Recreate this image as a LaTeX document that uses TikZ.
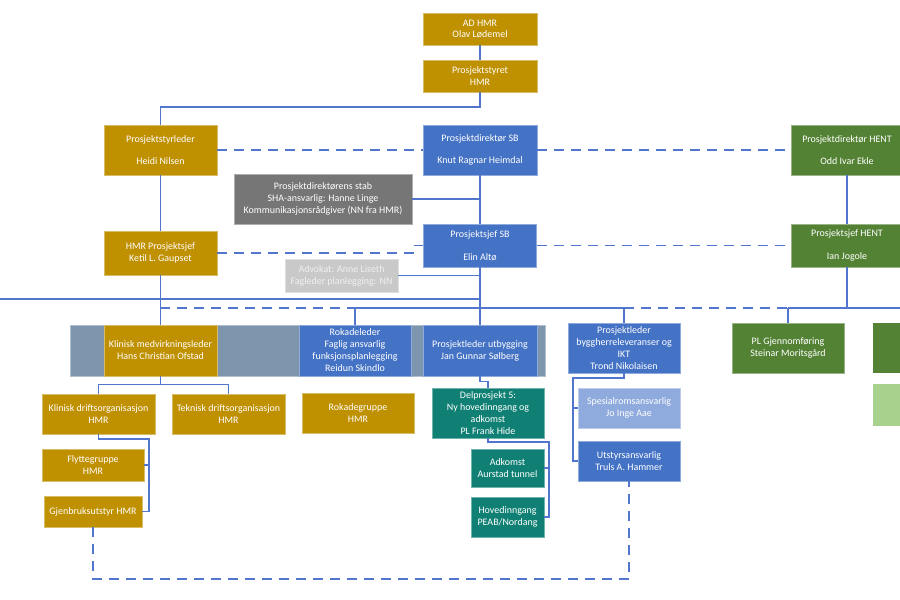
\documentclass[tikz,border=0pt]{standalone}
\usepackage{fontspec}
\setmainfont{Carlito}
\begin{document}
\begin{tikzpicture}[x=0.03cm,y=-0.03cm,
  every node/.style={font=\fontsize{8.5}{10.2}\selectfont,text=white,align=center,inner sep=0pt},
  box/.style={fill=#1,draw=#1!60!white,line width=0.6pt},
  sz/.style 2 args={minimum width=#1*0.03cm,minimum height=#2*0.03cm},
  link/.style={draw=kLine,line width=1.1pt},
  dlink/.style={link,dash pattern=on 8.5pt off 6pt}]
  \definecolor{kGold}{RGB}{191,144,0}
  \definecolor{kBlue}{RGB}{68,114,196}
  \definecolor{kPale}{RGB}{143,170,220}
  \definecolor{kGreen}{RGB}{84,130,53}
  \definecolor{kLeaf}{RGB}{169,209,142}
  \definecolor{kTeal}{RGB}{16,128,116}
  \definecolor{kSlate}{RGB}{125,150,173}
  \definecolor{kDark}{RGB}{118,118,118}
  \definecolor{kLight}{RGB}{201,201,201}
  \definecolor{kLightText}{RGB}{240,240,240}
  \definecolor{kLine}{RGB}{82,118,205}

  \clip (0,0) rectangle (900,600);

  % slate strip behind row 3
  \fill[kSlate] (70,325) rectangle (545,376);
  \draw[kSlate!60!white,line width=0.6pt] (70,325) rectangle (545,376);

  % cut-off boxes at the right edge
  \fill[kGreen] (873,323) rectangle (990,373);
  \fill[kLeaf] (873,384) rectangle (990,426);

  % top
  \node[box=kGold,sz={114}{32}] (adhmr) at (480,29) {AD HMR\\Olav Lødemel};
  \node[box=kGold,sz={114}{32}] (styret) at (480,76) {Prosjektstyret\\HMR};

  % leaders
  \node[box=kGold,sz={113}{50}] (styrleder) at (160.5,150) {Prosjektstyrleder\\[9pt]Heidi Nilsen};
  \node[box=kBlue,sz={114}{50}] (dirsb) at (480,150) {Prosjektdirektør SB\\[9pt]Knut Ragnar Heimdal};
  \node[box=kGreen,sz={112}{50}] (dirhent) at (847,150) {Prosjektdirektør HENT\\[9pt]Odd Ivar Ekle};
  \node[box=kDark,sz={178}{50}] (stab) at (323,199) {Prosjektdirektørens stab\\SHA-ansvarlig: Hanne Linge\\Kommunikasjonsrådgiver (NN fra HMR)};
  \node[box=kGold,sz={113}{44}] (hmrsjef) at (160.5,253) {HMR Prosjektsjef\\Ketil L. Gaupset};
  \node[box=kBlue,sz={113}{43}] (sjefsb) at (480,245.5) {Prosjektsjef SB\\[9pt]Elin Altø};
  \node[box=kGreen,sz={112}{43}] (sjefhent) at (847,245.5) {Prosjektsjef HENT\\[9pt]Ian Jogole};
  \node[box=kLight,sz={113}{33},text=kLightText] (advokat) at (341.5,275.5) {Advokat: Anne Liseth\\Fagleder planlegging: NN};

  % row 3
  \node[box=kGold,sz={113}{51}] (klinmed) at (160.5,350.5) {Klinisk medvirkningsleder\\Hans Christian Ofstad};
  \node[box=kBlue,sz={112}{51}] (roka) at (355,350.5) {Rokadeleder\\Faglig ansvarlig\\funksjonsplanlegging\\Reidun Skindlo};
  \node[box=kBlue,sz={114}{51}] (plutb) at (480,350.5) {Prosjektleder utbygging\\Jan Gunnar Sølberg};
  \node[box=kBlue,sz={112}{50}] (plbygg) at (624,348) {Prosjektleder\\byggherreleveranser og\\IKT\\Trond Nikolaisen};
  \node[box=kGreen,sz={112}{50}] (plgjen) at (788,348) {PL Gjennomføring\\Steinar Moritsgård};

  % row 4
  \node[box=kGold,sz={113}{40}] (klindrift) at (98.5,414) {Klinisk driftsorganisasjon\\HMR};
  \node[box=kGold,sz={113}{40}] (tekdrift) at (228.5,414) {Teknisk driftsorganisasjon\\HMR};
  \node[box=kGold,sz={112}{40}] (rokagr) at (358,413) {Rokadegruppe\\HMR};
  \node[box=kGold,sz={102}{32}] (flytte) at (93,465) {Flyttegruppe\\HMR};
  \node[box=kGold,sz={98}{31}] (gjenbruk) at (93,511.5) {Gjenbruksutstyr HMR};
  \node[box=kTeal,sz={112}{50}] (delp5) at (488,413) {Delprosjekt 5:\\Ny hovedinngang og\\adkomst\\PL Frank Hide};
  \node[box=kTeal,sz={73}{38}] (adkomst) at (507.5,468) {Adkomst\\Aurstad tunnel};
  \node[box=kTeal,sz={73}{40}] (hovedinng) at (507.5,517) {Hovedinngang\\PEAB/Nordang};
  \node[box=kPale,sz={102}{40}] (spesial) at (629,408) {Spesialromsansvarlig\\Jo Inge Aae};
  \node[box=kBlue,sz={102}{40}] (utstyr) at (629,461) {Utstyrsansvarlig\\Truls A. Hammer};

  % helper points
  \coordinate (jtop) at (160.5,107);
  \coordinate (kink) at (413,253);
  \coordinate (lend) at (0,299);
  \coordinate (busl) at (160.5,308);
  \coordinate (busr) at (900,308);
  \coordinate (kd) at (149,439);
  \coordinate (dp) at (549,442);
  \coordinate (pb) at (573,378);
  \coordinate (dbot) at (93,579);

  % solid links
  \draw[link] (adhmr) -- (styret);
  \draw[link] (styret.south) |- (jtop) -- (styrleder.north);
  \foreach \a/\b in {styrleder/hmrsjef,hmrsjef/klinmed,dirsb/sjefsb,sjefsb/plutb,dirhent/sjefhent}
    \draw[link] (\a.south) -- (\b.north);
  \draw[link] (stab.east) -- (stab.east -| dirsb.south);
  \draw[link] (advokat.east) -- (advokat.east -| sjefsb.south);
  \draw[link] (lend) -- (lend -| sjefsb.south);
  \draw[link] (sjefhent.south) -- (sjefhent.south |- busr);

  % bus under the leaders
  \draw[dlink] (busl) -- (busl -| roka.north);
  \draw[link] (busl -| roka.north) -- (busl -| plbygg.north);
  \draw[dlink] (busl -| plbygg.north) -- (busl -| plgjen.north);
  \draw[link] (busl -| plgjen.north) -- (busr);
  \foreach \n in {roka,plbygg,plgjen}
    \draw[link] (\n.north) -- (\n.north |- busl);

  % branches
  \draw[link] (klinmed.south) -- ++(0,8) -| (klindrift.north);
  \draw[link] (klinmed.south) -- ++(0,8) -| (tekdrift.north);
  \draw[link] (klindrift.south) |- (kd) |- (gjenbruk.east);
  \draw[link] (kd |- flytte.east) -- (flytte.east);
  \draw[link] (plutb.south) -- ++(0,5) -| (delp5.north);
  \draw[link] (delp5.south) |- (dp) |- (hovedinng.east);
  \draw[link] (dp |- adkomst.east) -- (adkomst.east);
  \draw[link] (plbygg.south) |- (pb) |- (utstyr.west);
  \draw[link] (pb |- spesial.west) -- (spesial.west);

  % dashed links
  \foreach \a/\b in {styrleder/dirsb,dirsb/dirhent,sjefsb/sjefhent}
    \draw[dlink] (\a.east) -- (\b.west);
  \draw[dlink] (hmrsjef.east) -- (kink) |- (sjefsb.west);
  \draw[dlink] (gjenbruk.south) -- (gjenbruk.south |- dbot) -| (utstyr.south);
\end{tikzpicture}
\end{document}
